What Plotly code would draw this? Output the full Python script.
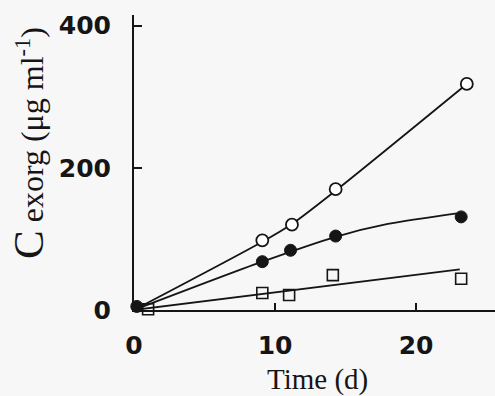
import plotly.graph_objects as go

# Data
time_open = [-0.3, 9.1, 11.2, 14.3, 23.6]
c_open = [4, 98, 120, 170, 318]

time_filled = [0.2, 9.1, 11.1, 14.3, 23.2]
c_filled = [5, 68, 84, 104, 131]

time_square = [1.0, 9.1, 11.0, 14.1, 23.2]
c_square = [1, 24, 21, 49, 44]

# Fitted curves
fit_open_t = [0, 9.1, 11.2, 14.3, 23.6]
fit_open_c = [0, 96, 121, 168, 318]
fit_filled_t = [0, 9.1, 14.3, 18.0, 22.9]
fit_filled_c = [0, 68, 103, 121, 136]
fit_square_t = [0, 23.1]
fit_square_c = [0, 57]

x_ticks = [0, 10, 20]
y_ticks = [0, 200, 400]

ink = "#151515"
bg = "#f7f7f7"

fig = go.Figure()

for t, c, shape in [(fit_open_t, fit_open_c, "spline"),
                    (fit_filled_t, fit_filled_c, "spline"),
                    (fit_square_t, fit_square_c, "linear")]:
    fig.add_trace(go.Scatter(x=t, y=c, mode="lines",
                             line=dict(color=ink, width=1.8, shape=shape, smoothing=0.8),
                             cliponaxis=False, showlegend=False, hoverinfo="skip"))

fig.add_trace(go.Scatter(x=time_square, y=c_square, mode="markers",
                         marker=dict(symbol="square-open", size=11, color=ink,
                                     line=dict(width=1.6, color=ink)),
                         cliponaxis=False, showlegend=False))
fig.add_trace(go.Scatter(x=time_filled, y=c_filled, mode="markers",
                         marker=dict(symbol="circle", size=12, color=ink,
                                     line=dict(width=1, color=ink)),
                         cliponaxis=False, showlegend=False))
fig.add_trace(go.Scatter(x=time_open, y=c_open, mode="markers",
                         marker=dict(symbol="circle", size=12, color="white",
                                     line=dict(width=1.8, color=ink)),
                         cliponaxis=False, showlegend=False))

tick_font = dict(family="DejaVu Sans", size=25, color=ink, weight="bold")

fig.update_layout(
    width=495, height=396,
    margin=dict(l=134, r=0, t=15, b=86),
    paper_bgcolor=bg, plot_bgcolor=bg,
    xaxis=dict(range=[0, 25.6], tickvals=x_ticks, ticktext=[str(v) for v in x_ticks],
               ticks="inside", ticklen=7, tickwidth=1.5, tickcolor=ink,
               showline=True, linewidth=2, linecolor=ink,
               showgrid=False, zeroline=False, tickfont=tick_font,
               ticklabelstandoff=12),
    yaxis=dict(range=[0, 415], tickvals=y_ticks, ticktext=[str(v) for v in y_ticks],
               ticks="inside", ticklen=8, tickwidth=1.5, tickcolor=ink,
               showline=True, linewidth=2, linecolor=ink,
               showgrid=False, zeroline=False, tickfont=tick_font,
               ticklabelstandoff=16),
)

fig.add_annotation(text="Time (d)", xref="paper", yref="paper", x=0.507, y=0,
                   xanchor="center", yanchor="middle", yshift=-69, showarrow=False,
                   font=dict(family="Liberation Serif", size=29, color=ink))

fig.add_annotation(
    text="<span style='font-size:43px'>C</span> exorg (μg ml<sup>-1</sup>)",
    xref="paper", yref="paper", x=0, y=(310 - 143) / 295,
    xanchor="center", yanchor="middle", xshift=-106, showarrow=False,
    textangle=-90, font=dict(family="Liberation Serif", size=32, color=ink))

fig.write_html("out.html")
